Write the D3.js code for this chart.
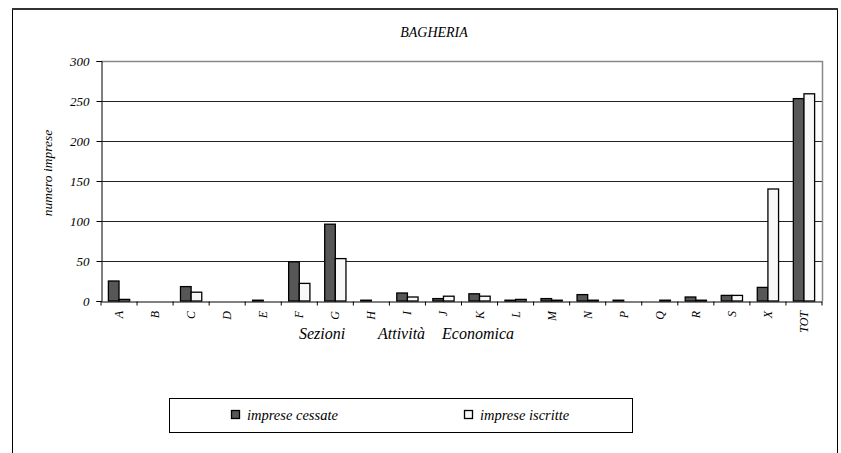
<!DOCTYPE html>
<html><head><meta charset="utf-8">
<script src="https://cdn.jsdelivr.net/npm/d3@7"></script>
<style>
html,body{margin:0;padding:0;background:#fff;}
</style></head>
<body>
<script>
const categories = ["A","B","C","D","E","F","G","H","I","J","K","L","M","N","P","Q","R","S","X","TOT"];
const cessate =   [25,0,18,0,1,49,96,1,10,3,9,1,3,8,1,0,5,7,17,253];
const iscritte =  [2,0,11,0,0,22,53,0,5,6,6,2,1,1,0,1,1,7,140,259];
const yTicks = [0,50,100,150,200,250,300];
const seriesNames = ["imprese cessate","imprese iscritte"];
const seriesColors = ["#575757","#f8f8f8"];

const FONT = "Liberation Serif";
const W = 841, H = 453;
const svg = d3.select("body").append("svg").attr("width",W).attr("height",H)
  .attr("font-family",FONT).attr("font-style","italic");

function txt(sel){ return sel.attr("font-family",FONT).attr("font-style","italic").attr("fill","#000"); }

// outer frame
svg.append("line").attr("x1",12.5).attr("x2",12.5).attr("y1",9).attr("y2",H).attr("stroke","#000");
svg.append("line").attr("x1",837.5).attr("x2",837.5).attr("y1",9).attr("y2",H).attr("stroke","#000");
svg.append("line").attr("x1",12).attr("x2",838).attr("y1",9).attr("y2",9).attr("stroke","#333").attr("stroke-width",2);

const L = 101, R = 822, T = 61, B = 301;
const x = d3.scaleBand().domain(categories).range([L,R]).padding(0);
const y = d3.scaleLinear().domain([0,300]).range([B,T]);

// gridlines
svg.append("g").selectAll("line").data(yTicks.filter(d=>d>0 && d<300)).join("line")
  .attr("x1",L).attr("x2",R).attr("y1",d=>Math.round(y(d))+0.5).attr("y2",d=>Math.round(y(d))+0.5)
  .attr("stroke","#222").attr("stroke-width",1);
// plot border top/right
svg.append("path").attr("d",`M${L},${T+0.5}H${R+0.5}V${B}`).attr("fill","none").attr("stroke","#888").attr("stroke-width",1.5);

// bars
const bw = x.bandwidth()*0.295;
const g = svg.append("g");
[cessate, iscritte].forEach((vals,si)=>{
  g.selectAll(null).data(categories).join("rect")
    .attr("x",(c)=>x(c)+x.bandwidth()/2 - bw + si*bw)
    .attr("width",bw)
    .attr("y",(c,i)=>y(vals[i]))
    .attr("height",(c,i)=>B-y(vals[i]))
    .attr("fill",seriesColors[si])
    .attr("stroke","#000").attr("stroke-width",1.3);
});

// y axis
const ya = d3.axisLeft(y).tickValues(yTicks).tickSize(5).tickPadding(7);
const yg = svg.append("g").attr("transform",`translate(${L+0.5},0)`).call(ya);
yg.attr("font-family",FONT).attr("font-size",13);
yg.select(".domain").attr("stroke","#000");
yg.selectAll(".tick line").attr("stroke","#000");
txt(yg.selectAll("text")).attr("font-size",13);

// x axis
const xa = d3.axisBottom(x).tickSize(0).tickFormat("");
const xg = svg.append("g").attr("transform",`translate(0,${B+0.5})`).call(xa);
xg.select(".domain").attr("stroke","#000");
xg.selectAll(null).data(categories.concat(["__end"])).join("line")
  .attr("x1",(c)=>c==="__end"?R:x(c)).attr("x2",(c)=>c==="__end"?R:x(c))
  .attr("y1",0).attr("y2",4).attr("stroke","#000");
txt(svg.append("g").selectAll("text").data(categories).join("text"))
  .attr("transform",c=>`translate(${x(c)+x.bandwidth()/2+4},311) rotate(-90)`)
  .attr("text-anchor","end").attr("font-size",12).text(c=>c);

// axis titles
const words = [["Sezioni",299],["Attività",378],["Economica",442]];
txt(svg.append("g").selectAll("text").data(words).join("text"))
  .attr("x",d=>d[1]).attr("y",339).attr("font-size",16).text(d=>d[0]);
txt(svg.append("text")).attr("transform","translate(52,173) rotate(-90)").attr("text-anchor","middle")
  .attr("font-size",13.5).text("numero imprese");

// title
txt(svg.append("text")).attr("x",434).attr("y",37).attr("text-anchor","middle").attr("font-size",14).text("BAGHERIA");

// legend
svg.append("rect").attr("x",169.5).attr("y",398.5).attr("width",463).attr("height",34).attr("fill","#fff").attr("stroke","#000");
const lx = [231,464];
seriesNames.forEach((n,i)=>{
  svg.append("rect").attr("x",lx[i]+0.5).attr("y",410.5).attr("width",8).attr("height",8)
    .attr("fill",seriesColors[i]).attr("stroke","#000").attr("stroke-width",1.3);
  txt(svg.append("text")).attr("x",lx[i]+16).attr("y",419.5).attr("font-size",14.5).text(n);
});
</script>
</body></html>
